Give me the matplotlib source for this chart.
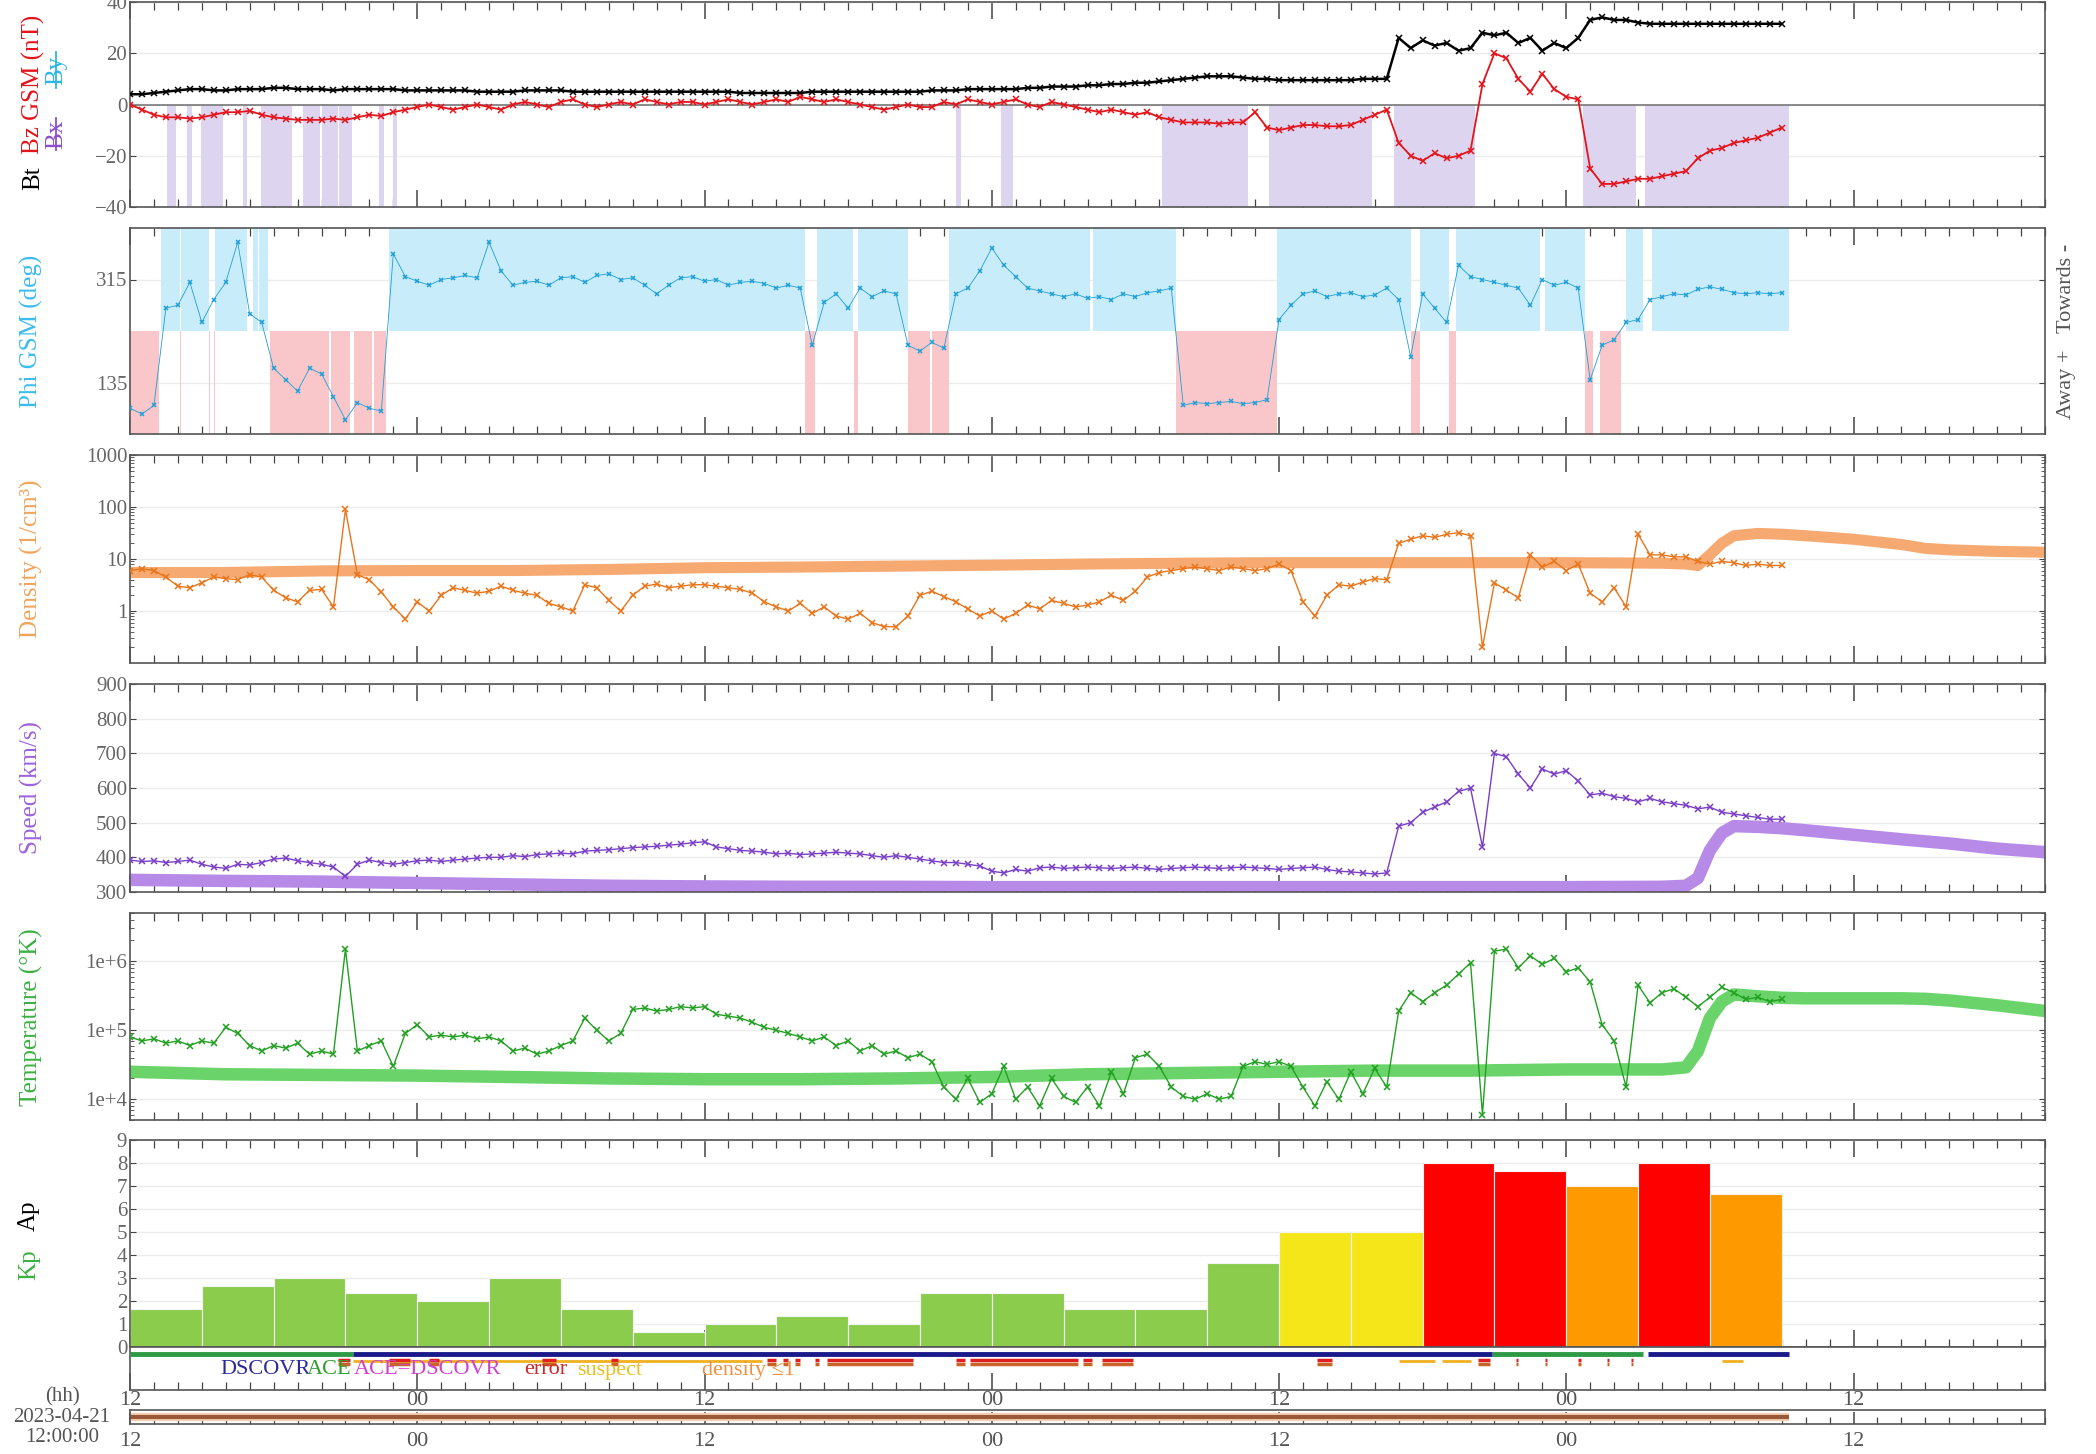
import numpy as np
import matplotlib
matplotlib.use("Agg")
import matplotlib.pyplot as plt
from matplotlib.lines import Line2D
from matplotlib.ticker import MultipleLocator, FixedLocator, FixedFormatter, LogLocator, NullFormatter

plt.rcParams['font.family'] = ['Liberation Serif', 'DejaVu Serif']

# ---- data: hours since 2023-04-21 12:00 UT, 30-min samples ----
hours = np.arange(0, 69.5, 0.5)

bt = [4, 4, 4.5, 5, 5.5, 6, 6, 5.5, 5.5, 6, 6, 6,
      6.5, 6.5, 6, 6, 6, 5.5, 6, 6, 6, 6, 6, 5.5,
      5.5, 5.5, 5.5, 5.5, 5.5, 5, 5, 5, 5, 5.5, 5.5, 5.5,
      5.5, 5, 5, 5, 5, 5, 5, 5, 5, 5, 5, 5,
      5, 5, 5, 4.5, 4.5, 4.5, 4.5, 4.5, 4.5, 5, 5, 5,
      5, 5, 5, 5, 5, 5, 5, 5.5, 5.5, 5.5, 6, 6,
      6, 6, 6, 6.5, 6.5, 7, 7, 7, 7.5, 7.5, 8, 8,
      8.5, 8.5, 9, 9.5, 10, 10.5, 11, 11, 11, 10.5, 10, 10,
      9.5, 9.5, 9.5, 9.5, 9.5, 9.5, 9.5, 10, 10, 10, 26, 22,
      25, 23, 24, 21, 22, 28, 27, 28, 24, 26, 21, 24,
      22, 26, 33, 34, 33, 33, 32, 31.5, 31.5, 31.5, 31.5, 31.5,
      31.5, 31.5, 31.5, 31.5, 31.5, 31.5, 31.5]

bz = [0, -2, -4, -5, -5, -5.5, -5, -4, -3, -3, -2.5, -4,
      -5, -5.5, -6, -6, -6, -5.5, -6, -5, -4, -4.5, -3, -2,
      -1, 0, -1, -2, -1, 0, -1, -2, 0, 1, 0, -1,
      1, 2, 0, -1, 0, 1, 0, 2, 1, 0, 1, 1,
      0, 1, 2, 1, 0, 1, 2, 1, 3, 2, 1, 2,
      1, 0, -1, -2, -1, 0, -1, -1, 1, 0, 2, 1,
      0, 1, 2, 0, -1, 1, 0, -1, -2, -3, -2, -3,
      -4, -3, -5, -6, -7, -7, -7, -7.5, -7, -7, -3, -9,
      -10, -9, -8, -8, -8.5, -8.5, -8, -6, -4, -2, -15, -20,
      -22, -19, -21, -20, -18, 8, 20, 18, 10, 5, 12, 6,
      3, 2, -25, -31, -31, -30, -29, -29, -28, -27, -26, -21,
      -18, -17, -15, -14, -13, -11, -9]

phi = [90, 80, 95, 265, 270, 310, 240, 280, 310, 380, 255, 240,
       160, 140, 120, 160, 150, 110, 70, 100, 90, 85, 360, 320,
       312, 305, 315, 318, 322, 318, 380, 330, 305, 310, 312, 305,
       318, 320, 310, 322, 325, 315, 318, 305, 290, 305, 318, 320,
       312, 315, 305, 310, 312, 308, 300, 305, 300, 200, 275, 290,
       265, 300, 285, 295, 290, 200, 190, 205, 195, 290, 300, 330,
       370, 340, 320, 300, 295, 290, 285, 290, 282, 285, 280, 290,
       285, 292, 295, 300, 95, 100, 98, 100, 102, 98, 100, 105,
       245, 270, 290, 295, 285, 290, 292, 285, 288, 300, 280, 180,
       290, 265, 240, 340, 320, 315, 310, 305, 300, 270, 315, 305,
       310, 300, 140, 200, 210, 240, 245, 280, 285, 290, 288, 298,
       302, 298, 292, 290, 292, 290, 292]

density = [6, 6.5, 6, 4.5, 3, 2.8, 3.5, 4.5, 4.2, 4, 5, 4.5,
           2.5, 1.8, 1.5, 2.5, 2.6, 1.2, 90, 5, 4, 2.3, 1.2, 0.7,
           1.5, 1.0, 2.0, 2.8, 2.5, 2.2, 2.4, 3.0, 2.5, 2.2, 2.0, 1.4,
           1.2, 1.0, 3.2, 2.8, 1.6, 1.0, 2.0, 3.0, 3.3, 2.8, 3.0, 3.2,
           3.2, 3.0, 2.8, 2.6, 2.2, 1.5, 1.2, 1.0, 1.4, 0.9, 1.2, 0.8,
           0.7, 0.9, 0.6, 0.5, 0.5, 0.8, 2.0, 2.4, 1.9, 1.5, 1.1, 0.8,
           1.0, 0.7, 0.9, 1.3, 1.1, 1.6, 1.4, 1.2, 1.3, 1.5, 2.0, 1.6,
           2.4, 4.5, 5.5, 6, 6.5, 7, 6.5, 6, 7, 6.5, 6, 6.5,
           8, 6, 1.5, 0.8, 2.0, 3.2, 3.0, 3.6, 4.2, 4.0, 20, 24,
           28, 26, 30, 32, 28, 0.2, 3.5, 2.5, 1.8, 12, 7, 9,
           6, 8, 2.2, 1.5, 2.8, 1.2, 30, 12, 12, 11, 11, 9,
           8, 9, 8.5, 7.5, 8, 7.5, 7.5]

speed = [392, 388, 390, 385, 388, 392, 380, 372, 368, 380, 378, 385,
         395, 398, 390, 385, 380, 372, 345, 380, 392, 385, 380, 385,
         390, 392, 388, 392, 395, 398, 400, 400, 405, 402, 408, 410,
         412, 410, 418, 420, 422, 425, 428, 430, 432, 435, 438, 442,
         445, 430, 425, 420, 418, 415, 410, 412, 408, 410, 412, 415,
         412, 410, 405, 400, 405, 400, 395, 390, 385, 385, 380, 375,
         360, 355, 365, 360, 370, 372, 368, 370, 372, 370, 368, 370,
         372, 368, 365, 368, 370, 372, 370, 368, 370, 372, 370, 368,
         365, 368, 370, 372, 365, 360, 358, 355, 352, 355, 490, 500,
         530, 545, 560, 590, 600, 430, 700, 690, 640, 600, 655, 640,
         650, 620, 580, 585, 575, 570, 560, 570, 560, 555, 550, 540,
         545, 530, 525, 520, 515, 510, 510]

temperature = [8e4, 7e4, 7.5e4, 6.5e4, 7e4, 6e4, 7e4, 6.5e4, 1.1e5, 9e4, 6e4, 5e4,
               6e4, 5.5e4, 6.5e4, 4.5e4, 5e4, 4.5e4, 1.5e6, 5e4, 6e4, 7e4, 3e4, 9e4,
               1.2e5, 8e4, 8.5e4, 8e4, 8.5e4, 7.5e4, 8e4, 7e4, 5e4, 5.5e4, 4.5e4, 5e4,
               6e4, 7e4, 1.5e5, 1e5, 7e4, 9e4, 2e5, 2.1e5, 1.9e5, 2e5, 2.2e5, 2.1e5,
               2.2e5, 1.7e5, 1.6e5, 1.5e5, 1.3e5, 1.1e5, 1e5, 9e4, 8e4, 7e4, 8e4, 6e4,
               7e4, 5e4, 6e4, 4.5e4, 5e4, 4e4, 4.5e4, 3.5e4, 1.5e4, 1e4, 2e4, 9e3,
               1.2e4, 3e4, 1e4, 1.5e4, 8e3, 2e4, 1.1e4, 9e3, 1.5e4, 8e3, 2.5e4, 1.2e4,
               4e4, 4.5e4, 3e4, 1.5e4, 1.1e4, 1e4, 1.2e4, 1e4, 1.1e4, 3e4, 3.5e4, 3.2e4,
               3.5e4, 3e4, 1.5e4, 8e3, 1.8e4, 1e4, 2.5e4, 1.2e4, 2.8e4, 1.5e4, 1.9e5, 3.5e5,
               2.6e5, 3.5e5, 4.5e5, 6.5e5, 9.5e5, 6e3, 1.4e6, 1.5e6, 8e5, 1.2e6, 9e5, 1.1e6,
               7e5, 8e5, 5e5, 1.2e5, 7e4, 1.5e4, 4.5e5, 2.5e5, 3.5e5, 4e5, 3e5, 2.2e5,
               3e5, 4.2e5, 3.5e5, 2.8e5, 3e5, 2.6e5, 2.8e5]

# model run (extends past the end of the measurements)
model_hours = [0, 4, 8, 12, 16, 20, 24, 28, 32, 36, 40, 44, 48, 52, 56, 60, 64, 65,
               65.5, 66, 66.5, 67, 68, 69, 70, 72, 74, 75, 76, 78, 80]
density_model = [5.5, 5.5, 5.9, 6.0, 6.0, 6.3, 6.8, 7.0, 7.3, 7.6, 8.0, 8.3, 8.5, 8.5, 8.5,
                 8.5, 8.3, 8.0, 7.5, 12, 20, 28, 31, 30, 28, 24, 19, 16, 15, 14, 13.5]
speed_model = [335, 332, 330, 326, 322, 318, 316, 315, 315, 314, 314, 314, 314, 314, 314,
               314, 315, 318, 340, 420, 470, 490, 488, 484, 478, 465, 452, 446, 440, 425, 415]
temperature_model = [2.5e4, 2.3e4, 2.25e4, 2.2e4, 2.1e4, 2.0e4, 1.95e4, 1.95e4, 2.0e4, 2.1e4,
                     2.3e4, 2.4e4, 2.5e4, 2.6e4, 2.6e4, 2.7e4, 2.7e4, 2.9e4, 5e4, 1.5e5, 2.6e5,
                     3.3e5, 3.1e5, 2.95e5, 2.9e5, 2.9e5, 2.9e5, 2.85e5, 2.7e5, 2.3e5, 1.9e5]

# 3-hour Kp, starting 12:00
kp_start = [0, 3, 6, 9, 12, 15, 18, 21, 24, 27, 30, 33, 36, 39, 42, 45, 48, 51, 54, 57, 60, 63, 66]
kp = [1.67, 2.67, 3.0, 2.33, 2.0, 3.0, 1.67, 0.67, 1.0, 1.33, 1.0, 2.33,
      2.33, 1.67, 1.67, 3.67, 5.0, 5.0, 8.0, 7.67, 7.0, 8.0, 6.67]

# (start, end) hour spans
bz_south_spans = [(1.55, 1.93), (2.4, 2.6), (2.96, 3.88), (4.7, 4.9), (5.47, 6.77),
                  (7.24, 7.95), (8.0, 8.7), (8.75, 9.29), (10.4, 10.6), (10.97, 11.15),
                  (34.5, 34.7), (36.4, 36.9), (43.1, 46.7), (47.6, 51.9), (52.8, 56.2),
                  (60.7, 62.9), (63.3, 69.3)]
towards_spans = [(1.28, 2.1), (2.15, 3.3), (3.55, 4.9), (5.12, 5.35), (5.4, 5.75),
                 (10.8, 28.2), (28.7, 30.2), (30.4, 32.5), (34.2, 40.1), (40.25, 43.7),
                 (47.9, 53.5), (53.9, 55.1), (55.4, 58.9), (59.1, 60.8), (62.5, 63.2),
                 (63.6, 69.3)]
away_spans = [(0.0, 1.2), (2.1, 2.15), (3.3, 3.35), (3.5, 3.55), (5.85, 8.3), (8.4, 9.2),
              (9.35, 10.1), (10.2, 10.7), (28.2, 28.6), (30.25, 30.4), (32.5, 33.4),
              (33.5, 34.2), (43.7, 47.9), (53.5, 53.9), (55.1, 55.4), (60.8, 61.1), (61.4, 62.3)]
ace_spans = [(0.0, 9.3), (56.9, 63.2)]
dscovr_spans = [(9.3, 56.9), (63.4, 69.3)]
error_spans = [(8.7, 9.2), (10.8, 11.7), (12.5, 12.9), (17.2, 17.8), (20.1, 20.4),
               (26.6, 27.0), (27.3, 27.5), (27.8, 28.0), (28.6, 28.8), (29.1, 32.7),
               (34.5, 34.9), (35.1, 39.6), (39.8, 40.2), (40.6, 41.9), (49.6, 50.2),
               (56.3, 56.8), (57.9, 58.0), (59.1, 59.2), (60.5, 60.6), (61.7, 61.8), (62.7, 62.8)]
suspect_spans = [(9.3, 26.4), (53.0, 54.5), (54.8, 56.0), (66.5, 67.4)]
coverage_span = (0.0, 69.3)

x_tick_hours = [0, 12, 24, 36, 48, 60, 72]
x_tick_labels = ["12", "00", "12", "00", "12", "00", "12"]

# ---- styling ----
W, H, DPI = 2096, 1454, 100
X0, X1 = 130, 2045
SPINE = '#555555'
TICK = '#444444'
LABEL_GREY = '#666666'
GRID = '#ececec'

C_BT = 'black'
C_BZ = '#e3141b'
C_BZ_SHADE = '#ddd5f0'
C_PHI = '#1e9fd6'
C_TOW = '#c8ecf9'
C_AWAY = '#f9c6ca'
C_DENS = '#e8751a'
C_DENS_M = '#f6aa72'
C_SPEED = '#7a3fc6'
C_SPEED_M = '#b78ae8'
C_TEMP = '#22a022'
C_TEMP_M = '#6ad46a'


def kp_color(k):
    if k >= 7.5:
        return '#ff0000'
    if k >= 6:
        return '#ff9900'
    if k >= 5:
        return '#f5e61a'
    return '#8ccc4c'


fig = plt.figure(figsize=(W / DPI, H / DPI), dpi=DPI)


def panel(top, bottom):
    return fig.add_axes([X0 / W, 1 - bottom / H, (X1 - X0) / W, (bottom - top) / H])


def fx(x):
    return x / W


def fy(y):
    return 1 - y / H


def style(ax, xlabels=False, top_ticks=True, ygrid=True):
    ax.set_xlim(0, 80)
    ax.xaxis.set_major_locator(FixedLocator(x_tick_hours))
    ax.xaxis.set_minor_locator(MultipleLocator(1))
    ax.tick_params(axis='x', which='both', direction='in', top=top_ticks, bottom=True,
                   colors=TICK, labelbottom=xlabels)
    ax.tick_params(axis='x', which='major', length=12, width=1.1)
    ax.tick_params(axis='x', which='minor', length=6, width=0.9)
    ax.tick_params(axis='y', which='both', direction='in', left=True, right=True,
                   colors=TICK, labelcolor=LABEL_GREY, labelsize=15, length=4, pad=2)
    ax.tick_params(axis='y', which='minor', length=3)
    for s in ax.spines.values():
        s.set_color(SPINE)
        s.set_linewidth(1.2)
    if ygrid:
        ax.yaxis.grid(True, which='major', color=GRID, lw=1)
    ax.set_axisbelow(True)


def series(ax, y, color, ms=4.5, lw=1.0, marker='x'):
    ax.plot(hours, y, color=color, lw=lw, marker=marker, ms=ms, mew=1.1, zorder=4)


# --- magnetic field ---
ax1 = panel(2, 207)
style(ax1)
for s, e in bz_south_spans:
    ax1.axvspan(s, e, ymin=0, ymax=0.5, color=C_BZ_SHADE, lw=0, zorder=1)
ax1.axhline(0, color='#777777', lw=1.2, zorder=2)
series(ax1, bt, C_BT, lw=1.8)
series(ax1, bz, C_BZ, lw=1.3)
ax1.set_ylim(-40, 40)
ax1.set_yticks([-40, -20, 0, 20, 40])

# --- IMF angle ---
ax2 = panel(228, 434)
style(ax2)
for s, e in towards_spans:
    ax2.axvspan(s, e, ymin=0.5, ymax=1, color=C_TOW, lw=0, zorder=1)
for s, e in away_spans:
    ax2.axvspan(s, e, ymin=0, ymax=0.5, color=C_AWAY, lw=0, zorder=1)
series(ax2, phi, C_PHI, ms=3.5, lw=0.6)
ax2.set_ylim(45, 405)
ax2.set_yticks([135, 315])

# --- density ---
ax3 = panel(455, 663)
style(ax3)
ax3.plot(model_hours, density_model, color=C_DENS_M, lw=8, solid_capstyle='butt', zorder=2)
series(ax3, density, C_DENS)
ax3.set_yscale('log')
ax3.set_ylim(0.1, 1000)
ax3.yaxis.set_major_locator(FixedLocator([1, 10, 100, 1000]))
ax3.yaxis.set_major_formatter(FixedFormatter(['1', '10', '100', '1000']))
ax3.yaxis.set_minor_locator(LogLocator(base=10, subs=np.arange(2, 10)))
ax3.yaxis.set_minor_formatter(NullFormatter())

# --- speed ---
ax4 = panel(684, 892)
style(ax4)
ax4.plot(model_hours, speed_model, color=C_SPEED_M, lw=9, solid_capstyle='butt', zorder=2)
series(ax4, speed, C_SPEED)
ax4.set_ylim(300, 900)
ax4.set_yticks(range(300, 901, 100))

# --- temperature ---
ax5 = panel(913, 1120)
style(ax5)
ax5.plot(model_hours, temperature_model, color=C_TEMP_M, lw=9, solid_capstyle='butt', zorder=2)
series(ax5, temperature, C_TEMP)
ax5.set_yscale('log')
ax5.set_ylim(5e3, 5e6)
ax5.yaxis.set_major_locator(FixedLocator([1e4, 1e5, 1e6]))
ax5.yaxis.set_major_formatter(FixedFormatter(['1e+4', '1e+5', '1e+6']))
ax5.yaxis.set_minor_locator(LogLocator(base=10, subs=np.arange(2, 10)))
ax5.yaxis.set_minor_formatter(NullFormatter())

# --- Kp ---
ax6 = panel(1140, 1347)
style(ax6)
ax6.bar(np.array(kp_start) + 1.5, kp, width=3, color=[kp_color(k) for k in kp],
        edgecolor='#f4f4f4', linewidth=0.8, zorder=2)
ax6.set_ylim(0, 9)
ax6.set_yticks(range(0, 10))

# --- data source strip ---
ax7 = panel(1347, 1390)
style(ax7, xlabels=True, top_ticks=False, ygrid=False)
ax7.set_ylim(0, 1)
ax7.set_yticks([])
ax7.set_xticklabels(x_tick_labels)
ax7.tick_params(axis='x', labelsize=16, labelcolor='#555555', pad=1)
for s, e in ace_spans:
    ax7.plot([s, e], [0.83, 0.83], color='#2e9a45', lw=3.5, solid_capstyle='butt', zorder=3)
for s, e in dscovr_spans:
    ax7.plot([s, e], [0.83, 0.83], color='#1a1a8a', lw=3.5, solid_capstyle='butt', zorder=3)
for s, e in suspect_spans:
    ax7.plot([s, e], [0.68, 0.68], color='#f0b020', lw=2, solid_capstyle='butt', zorder=3)
for s, e in error_spans:
    ax7.plot([s, e], [0.70, 0.70], color='#e02020', lw=2.5, solid_capstyle='butt', zorder=4)
    ax7.plot([s, e], [0.60, 0.60], color='#c86428', lw=2.5, solid_capstyle='butt', zorder=4)

# --- time coverage bar ---
ax8 = panel(1410, 1424)
style(ax8, xlabels=True, top_ticks=False, ygrid=False)
ax8.set_ylim(0, 1)
ax8.set_yticks([])
ax8.set_xticklabels(x_tick_labels)
ax8.tick_params(axis='x', labelsize=16, labelcolor='#555555', pad=6)
ax8.tick_params(axis='x', which='major', length=9)
ax8.tick_params(axis='x', which='minor', length=5)
ax8.plot(coverage_span, [0.5, 0.5], color='#f2cfb0', lw=6, solid_capstyle='butt')
ax8.plot(coverage_span, [0.5, 0.5], color='#9a5a3a', lw=3, solid_capstyle='butt')

# --- axis labels ---
LAB = 18
fig.text(fx(33), fy(178), 'Bt', rotation=90, ha='center', va='center', fontsize=LAB, color='black')
fig.text(fx(33), fy(84), 'Bz GSM (nT)', rotation=90, ha='center', va='center', fontsize=LAB, color=C_BZ)
fig.text(fx(56), fy(134), 'Bx', rotation=90, ha='center', va='center', fontsize=LAB, color='#8a4fd0')
fig.text(fx(56), fy(70), 'By', rotation=90, ha='center', va='center', fontsize=LAB, color='#2bb5e8')
fig.add_artist(Line2D([fx(56), fx(56)], [fy(150), fy(118)], color='#8a4fd0', lw=1.3))
fig.add_artist(Line2D([fx(56), fx(56)], [fy(88), fy(52)], color='#2bb5e8', lw=1.3))

fig.text(fx(31), fy(331), 'Phi GSM (deg)', rotation=90, ha='center', va='center', fontsize=LAB, color='#3cbcef')
fig.text(fx(31), fy(559), 'Density (1/cm³)', rotation=90, ha='center', va='center', fontsize=LAB, color='#f0a45c')
fig.text(fx(31), fy(788), 'Speed (km/s)', rotation=90, ha='center', va='center', fontsize=LAB, color='#9b62dc')
fig.text(fx(31), fy(1017), 'Temperature (°K)', rotation=90, ha='center', va='center', fontsize=LAB, color='#3cb043')
fig.text(fx(29), fy(1265), 'Kp', rotation=90, ha='center', va='center', fontsize=LAB, color='#3cb043')
fig.text(fx(29), fy(1216), 'Ap', rotation=90, ha='center', va='center', fontsize=LAB, color='black')
fig.text(fx(2066), fy(331), 'Away +   Towards -', rotation=90, ha='center', va='center',
         fontsize=16, color='#555555')

# --- source legend ---
legend_items = [('DSCOVR', '#2a2a9a', 220), ('ACE', '#2ca02c', 307), ('ACE=DSCOVR', '#d040d0', 354),
                ('error', '#cc2a2a', 524), ('suspect', '#e8c020', 577), ('density ≤1', '#f09040', 702)]
for txt, col, xpix in legend_items:
    fig.text(fx(xpix), fy(1370), txt, ha='left', va='center', fontsize=16, color=col)

fig.text(fx(62), fy(1397), '(hh)', ha='center', va='center', fontsize=15, color='#555555')
fig.text(fx(62), fy(1417), '2023-04-21', ha='center', va='center', fontsize=15, color='#555555')
fig.text(fx(62), fy(1437), '12:00:00', ha='center', va='center', fontsize=15, color='#555555')

fig.savefig('out.png', dpi=DPI)
